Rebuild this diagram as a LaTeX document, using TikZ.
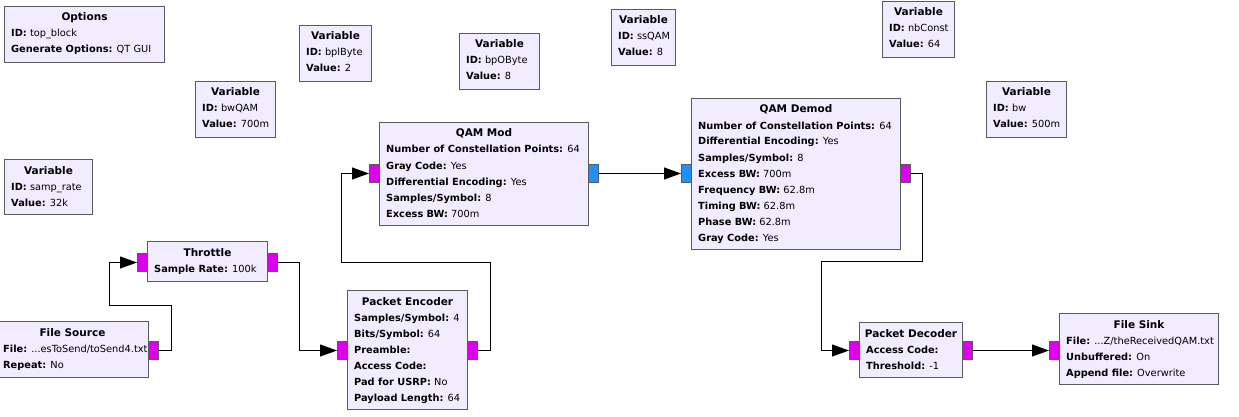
\documentclass[tikz,border=0pt]{standalone}
\usepackage{fontspec}
\setmainfont{DejaVu Sans}
\usetikzlibrary{arrows.meta,calc}
\definecolor{blkfill}{HTML}{F1ECFF}
\definecolor{blkdraw}{HTML}{5A5A5A}
\definecolor{portmag}{HTML}{DD00EE}
\definecolor{portblue}{HTML}{1E90FF}
\newcommand\tdots{...}
\tikzset{
  blockbox/.style={draw=blkdraw, fill=blkfill, line width=1pt, rectangle, inner sep=0pt},
  ttl/.style={inner sep=0pt, font=\fontsize{10.5}{16}\selectfont\bfseries},
  fld/.style={inner sep=0pt, font=\fontsize{9.8}{16}\selectfont},
  portm/.style={draw=blkdraw, fill=portmag, line width=1pt, inner sep=0pt, minimum width=10pt, minimum height=18pt, anchor=north west},
  portb/.style={portm, fill=portblue},
  conn/.style={draw=black, line width=1pt, -{Triangle[length=17pt,width=12pt]}},
}
\newcommand\grcblock[7]{%
  \node[blockbox, minimum width=#4, minimum height=#5, anchor=north west] (#1) at (#2,#3) {};
  \node[ttl, anchor=base] (#1-t) at ($(#1.north)+(0,15)$) {#6};
  \foreach \fieldtxt [count=\i] in {#7} {
    \node[fld, anchor=base west] (#1-\i) at ($(#1.north west)+(7,15+16*\i)$) {\fieldtxt};
  }%
}
\begin{document}
\begin{tikzpicture}[x=1pt,y=-1pt]
\useasboundingbox[fill=white] (0,0) rectangle (1239,417);

% ports (drawn first, blocks on top)
\node[portm] (thr-in) at (137,253) {};
\node[portm] (thr-out) at (267,253) {};
\node[portm] (fs-out) at (148,341) {};
\node[portm] (pe-in) at (337,341) {};
\node[portm] (pe-out) at (467,341) {};
\node[portm] (qm-in) at (369,164) {};
\node[portb] (qm-out) at (588,164) {};
\node[portb] (qd-in) at (681,164) {};
\node[portm] (qd-out) at (900,164) {};
\node[portm] (pd-in) at (849,341) {};
\node[portm] (pd-out) at (962,341) {};
\node[portm] (fsk-in) at (1049,341) {};

\grcblock{opt}{4}{6}{160}{56}{Options}{{\textbf{ID:} top\_block},{\textbf{Generate Options:} QT GUI}}
\grcblock{vbpl}{299}{25}{72}{56}{Variable}{{\textbf{ID:} bplByte},{\textbf{Value:} 2}}
\grcblock{vbwq}{195}{81}{80}{56}{Variable}{{\textbf{ID:} bwQAM},{\textbf{Value:} 700m}}
\grcblock{vsamp}{4}{159}{88}{55}{Variable}{{\textbf{ID:} samp\_rate},{\textbf{Value:} 32k}}
\grcblock{vbpo}{459}{33}{80}{56}{Variable}{{\textbf{ID:} bpOByte},{\textbf{Value:} 8}}
\grcblock{vss}{611}{9}{64}{56}{Variable}{{\textbf{ID:} ssQAM},{\textbf{Value:} 8}}
\grcblock{vnb}{882}{1}{72}{56}{Variable}{{\textbf{ID:} nbConst},{\textbf{Value:} 64}}
\grcblock{vbw}{986}{81}{80}{56}{Variable}{{\textbf{ID:} bw},{\textbf{Value:} 500m}}
\grcblock{qm}{379}{122}{209}{103}{QAM Mod}{{\textbf{Number of Constellation Points:} 64},{\textbf{Gray Code:} Yes},{\textbf{Differential Encoding:} Yes},{\textbf{Samples/Symbol:} 8},{\textbf{Excess BW:} 700m}}
\grcblock{qd}{691}{98}{209}{151}{QAM Demod}{{\textbf{Number of Constellation Points:} 64},{\textbf{Differential Encoding:} Yes},{\textbf{Samples/Symbol:} 8},{\textbf{Excess BW:} 700m},{\textbf{Frequency BW:} 62.8m},{\textbf{Timing BW:} 62.8m},{\textbf{Phase BW:} 62.8m},{\textbf{Gray Code:} Yes}}
\grcblock{thr}{147}{241}{120}{40}{Throttle}{{\textbf{Sample Rate:} 100k}}
\grcblock{fs}{-4}{321}{152}{56}{File Source}{{\textbf{File:} \tdots esToSend/toSend4.txt},{\textbf{Repeat:} No}}
\grcblock{pe}{347}{290}{120}{119}{Packet Encoder}{{\textbf{Samples/Symbol:} 4},{\textbf{Bits/Symbol:} 64},{\textbf{Preamble:}},{\textbf{Access Code:}},{\textbf{Pad for USRP:} No},{\textbf{Payload Length:} 64}}
\grcblock{pd}{859}{322}{103}{55}{Packet Decoder}{{\textbf{Access Code:}},{\textbf{Threshold:} -1}}
\grcblock{fsk}{1059}{313}{159}{71}{File Sink}{{\textbf{File:} \tdots Z/theReceivedQAM.txt},{\textbf{Unbuffered:} On},{\textbf{Append file:} Overwrite}}

% connectors
\draw[conn] (fs-out.east) -- ++(12,0) -- ++(0,-45) -- ++(-62,0) |- (thr-in.west);
\draw[conn] (thr-out.east) -- ++(21,0) |- (pe-in.west);
\draw[conn] (pe-out.east) -- ++(12,0) -- ++(0,-88) -- ++(-149,0) |- (qm-in.west);
\draw[conn] (qm-out.east) -- (qd-in.west);
\draw[conn] (qd-out.east) -- ++(11,0) -- ++(0,88) -- ++(-101,0) |- (pd-in.west);
\draw[conn] (pd-out.east) -- (fsk-in.west);
\end{tikzpicture}
\end{document}
